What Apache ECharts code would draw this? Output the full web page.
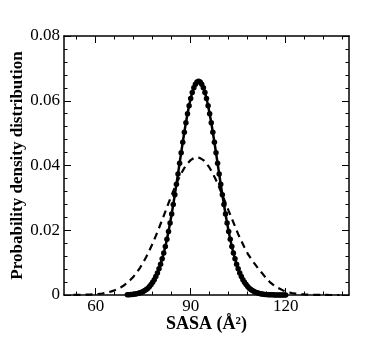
<!DOCTYPE html>
<html>
<head>
<meta charset="utf-8">
<script src="https://cdn.jsdelivr.net/npm/echarts@6/dist/echarts.min.js"></script>
<style>html,body{margin:0;padding:0;background:#fff}#c{width:380px;height:338px}</style>
</head>
<body>
<div id="c"></div>
<script>
// Solid curve (with markers)
var sasaSolid = [70,70.5,71,71.5,72,72.5,73,73.5,74,74.5,75,75.5,76,76.5,77,77.5,78,78.5,79,79.5,80,80.5,81,81.5,82,82.5,83,83.5,84,84.5,85,85.5,86,86.5,87,87.5,88,88.5,89,89.5,90,90.5,91,91.5,92,92.5,93,93.5,94,94.5,95,95.5,96,96.5,97,97.5,98,98.5,99,99.5,100,100.5,101,101.5,102,102.5,103,103.5,104,104.5,105,105.5,106,106.5,107,107.5,108,108.5,109,109.5,110,110.5,111,111.5,112,112.5,113,113.5,114,114.5,115,115.5,116,116.5,117,117.5,118,118.5,119,119.5,120];
var pdfSolid = [0.00007,0.00010,0.00013,0.00018,0.00023,0.00031,0.00040,0.00052,0.00066,0.00085,0.00108,0.00136,0.00170,0.00212,0.00262,0.00321,0.00391,0.00474,0.00570,0.00681,0.00809,0.00953,0.01116,0.01299,0.01500,0.01722,0.01963,0.02223,0.02500,0.02793,0.03099,0.03417,0.03741,0.04069,0.04395,0.04717,0.05028,0.05323,0.05598,0.05848,0.06068,0.06255,0.06403,0.06512,0.06578,0.06600,0.06578,0.06512,0.06403,0.06255,0.06068,0.05848,0.05598,0.05323,0.05028,0.04717,0.04395,0.04069,0.03741,0.03417,0.03099,0.02793,0.02500,0.02223,0.01963,0.01722,0.01500,0.01299,0.01116,0.00953,0.00809,0.00681,0.00570,0.00474,0.00391,0.00321,0.00262,0.00212,0.00170,0.00136,0.00108,0.00085,0.00066,0.00052,0.00040,0.00031,0.00023,0.00018,0.00013,0.00010,0.00007,0.00005,0.00004,0.00003,0.00002,0.00001,0.00001,0.00001,0,0,0];
// Dashed curve
var sasaDashed = [53,54,55,56,57,58,59,60,61,62,63,64,65,66,67,68,69,70,71,72,73,74,75,76,77,78,79,80,81,82,83,84,85,86,87,88,89,90,91,92,93,94,95,96,97,98,99,100,101,102,103,104,105,106,107,108,109,110,111,112,113,114,115,116,117,118,119,120,121,122,123,124,125,126,127,128,129,130,131,132,133,134,135,136,137];
var pdfDashed = [0.00002,0.00003,0.00005,0.00007,0.00009,0.00013,0.00018,0.00025,0.00035,0.00047,0.00063,0.00084,0.00111,0.00145,0.00187,0.00239,0.00302,0.00378,0.00469,0.00575,0.00699,0.00841,0.01002,0.01182,0.01380,0.01595,0.01826,0.02069,0.02321,0.02578,0.02835,0.03086,0.03326,0.03550,0.03751,0.03923,0.04063,0.04166,0.04229,0.04250,0.04229,0.04166,0.04063,0.03923,0.03751,0.03550,0.03326,0.03090,0.02850,0.02600,0.02360,0.02120,0.01880,0.01670,0.01470,0.01280,0.01130,0.00990,0.00860,0.00740,0.00620,0.00500,0.00400,0.00320,0.00250,0.00200,0.00150,0.00110,0.00080,0.00060,0.00045,0.00033,0.00024,0.00017,0.00012,0.00008,0.00005,0.00003,0.00002,0.00001,0.00001,0,0,0,0];
// Ticks
var xMajorTicks = [60, 90, 120];
var xMinorTicks = [54, 66, 72, 78, 84, 96, 102, 108, 114, 126, 132, 138];

function pairs(xs, ys) { return xs.map(function (x, i) { return [x, ys[i]]; }); }

var FONT = '"Liberation Serif","Times New Roman",serif';
var black = '#000';
function xAx(pos, ticks, len, showLabel, showLine) {
  return {
    type: 'value', position: pos, min: 50, max: 140,
    axisLine: { show: showLine, onZero: false, lineStyle: { color: black, width: 1.5 } },
    axisTick: { show: true, inside: true, length: len, customValues: ticks, lineStyle: { color: black, width: 1 } },
    axisLabel: { show: showLabel, customValues: ticks, color: black, fontFamily: FONT, fontSize: 17, margin: 3 },
    splitLine: { show: false }
  };
}
var xAxes = [
  Object.assign(xAx('bottom', xMajorTicks, 7, true, true), {
    name: 'SASA (Å²)', nameLocation: 'middle', nameGap: 20, nameMoveOverlap: false,
    nameTextStyle: { color: black, fontFamily: FONT, fontSize: 18, fontWeight: 'bold', verticalAlign: 'top' }
  }),
  xAx('bottom', xMinorTicks, 3.5, false, false),
  xAx('top', xMajorTicks, 7, false, true),
  xAx('top', xMinorTicks, 3.5, false, false)
];
function yAx(pos, showLabel) {
  return {
    type: 'value', position: pos, min: 0, max: 0.08, interval: 0.02,
    axisLine: { show: true, onZero: false, lineStyle: { color: black, width: 1.5 } },
    axisTick: { show: true, inside: true, length: 7, lineStyle: { color: black, width: 1 } },
    minorTick: { show: true, splitNumber: 5, length: 3.5, lineStyle: { color: black, width: 1 } },
    axisLabel: { show: showLabel, color: black, fontFamily: FONT, fontSize: 17, margin: 4,
      formatter: function (v) { return v === 0 ? '0' : v.toFixed(2); } },
    splitLine: { show: false }, minorSplitLine: { show: false }
  };
}
var yAxes = [
  Object.assign(yAx('left', true), {
    name: 'Probability density distribution', nameLocation: 'middle', nameGap: 38, nameMoveOverlap: false,
    nameTextStyle: { color: black, fontFamily: FONT, fontSize: 17, fontWeight: 'bold' }
  }),
  yAx('right', false)
];

var chart = echarts.init(document.getElementById('c'), null, { renderer: 'canvas' });
chart.setOption({
  animation: false,
  backgroundColor: '#fff',
  grid: { left: 64, right: 31, top: 36, bottom: 43, containLabel: false, outerBoundsMode: 'none' },
  xAxis: xAxes,
  yAxis: yAxes,
  series: [
    { type: 'line', xAxisIndex: 0, yAxisIndex: 0, data: pairs(sasaDashed, pdfDashed),
      symbol: 'none', lineStyle: { color: black, width: 2.2, type: [7, 5] }, z: 2 },
    { type: 'line', xAxisIndex: 0, yAxisIndex: 0, data: pairs(sasaSolid, pdfSolid),
      symbol: 'circle', symbolSize: 5.5, showAllSymbol: true,
      itemStyle: { color: black }, lineStyle: { color: black, width: 2.5 }, z: 3 }
  ]
});
</script>
</body>
</html>
